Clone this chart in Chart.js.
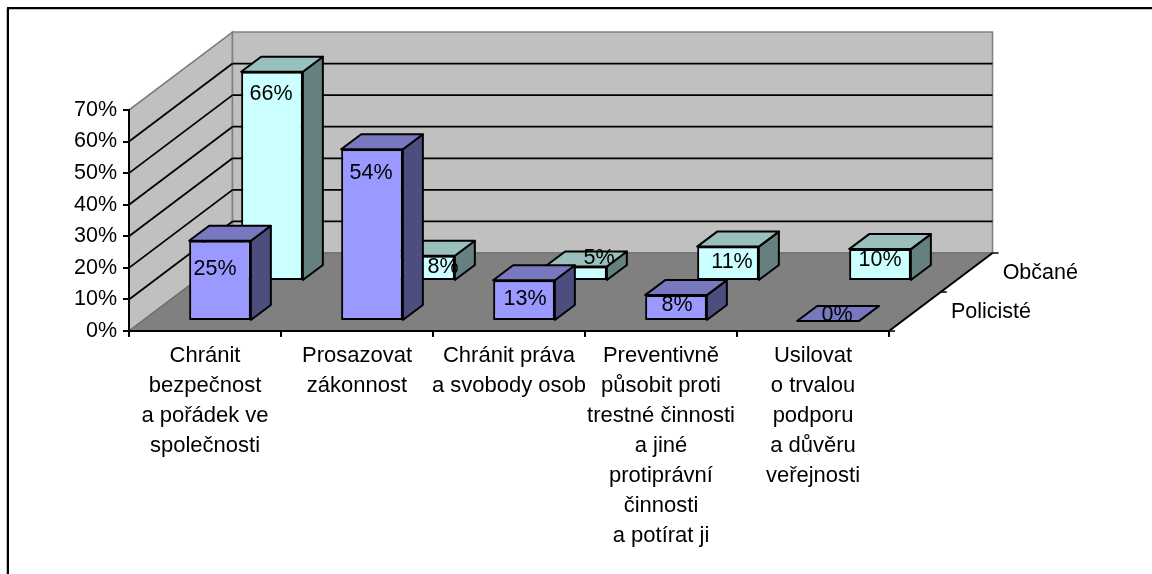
<!DOCTYPE html>
<html lang="cs">
<head>
<meta charset="utf-8">
<title>Graf</title>
<style>
  html, body { margin: 0; padding: 0; background: #fff; }
  canvas { display: block; }
</style>
<script src="https://cdn.jsdelivr.net/npm/chart.js@4/dist/chart.umd.min.js"></script>
</head>
<body>
<canvas id="graf" width="1152" height="574"></canvas>
<script>
// ===== Data =====
const categories = [
  ["Chránit", "bezpečnost", "a pořádek ve", "společnosti"],
  ["Prosazovat", "zákonnost"],
  ["Chránit práva", "a svobody osob"],
  ["Preventivně", "působit proti", "trestné činnosti", "a jiné", "protiprávní", "činnosti", "a potírat ji"],
  ["Usilovat", "o trvalou", "podporu", "a důvěru", "veřejnosti"],
];
const policiste = [25.4, 54.4, 12.9, 8.2, 0];
const obcane = [66.3, 8, 4.6, 10.9, 10.1];
const seriesNames = ["Policisté", "Občané"];
const yTicks = [0, 10, 20, 30, 40, 50, 60, 70];

// ===== 3D look =====
const FONT = '21.5px "Liberation Sans", Arial, sans-serif';
const FLOOR_DX = 103.5;   // floor depth, left wall goes this far right
const FLOOR_DY = -78;     // ...and this far up
const BAR_DX = 20;        // depth of one bar
const BAR_DY = -15;

// per series: shift into the floor, colours of the faces
const seriesLook = [
  { dx: 15, dy: -10, front: "#9999ff", top: "#7878c0", side: "#4d4d80" },
  { dx: 67, dy: -50, front: "#ccffff", top: "#99c0bc", side: "#668080" },
];

// Excel put the value labels a bit unevenly, nudges against the bar top
const labelNudge = [
  { x: [-5, -1, 1, 1, 9], y: [28, 24, 19, 10, -6] },
  { x: [-1, 19, 23, 4, 0], y: [22, 11, -8, 15, 11] },
];

function poly(ctx, pts, fill, stroke, width) {
  ctx.beginPath();
  pts.forEach((p, i) => (i ? ctx.lineTo(p[0], p[1]) : ctx.moveTo(p[0], p[1])));
  ctx.closePath();
  if (fill) {
    ctx.fillStyle = fill;
    ctx.fill();
  }
  if (stroke) {
    ctx.strokeStyle = stroke;
    ctx.lineWidth = width;
    ctx.stroke();
  }
}

function line(ctx, x1, y1, x2, y2, color, width) {
  ctx.beginPath();
  ctx.moveTo(x1, y1);
  ctx.lineTo(x2, y2);
  ctx.strokeStyle = color;
  ctx.lineWidth = width;
  ctx.stroke();
}

const box3d = {
  id: "box3d",

  // frame, walls and floor go under the axes
  beforeDraw(chart) {
    const { ctx, chartArea: a, scales } = chart;
    const y0 = scales.y.getPixelForValue(0);
    const yMax = scales.y.getPixelForValue(70);
    const dx = FLOOR_DX;
    const dy = FLOOR_DY;

    ctx.save();
    ctx.fillStyle = "#fff";
    ctx.fillRect(0, 0, chart.width, chart.height);

    // outer frame, only top and left are visible
    ctx.fillStyle = "#c0c0c0";
    ctx.fillRect(6, 9, 1, chart.height - 9);
    ctx.fillRect(9, 9, chart.width - 9, 1);
    ctx.fillStyle = "#000";
    ctx.fillRect(7, 7, chart.width - 7, 2);
    ctx.fillRect(7, 7, 2, chart.height - 7);

    // walls
    poly(ctx, [[a.left, y0], [a.left + dx, y0 + dy], [a.left + dx, yMax + dy], [a.left, yMax]], "#c0c0c0", "#808080", 1.6);
    poly(ctx, [[a.left + dx, y0 + dy], [a.right + dx, y0 + dy], [a.right + dx, yMax + dy], [a.left + dx, yMax + dy]], "#c0c0c0", "#808080", 1.6);

    // gridlines on both walls
    yTicks.forEach((v) => {
      if (v === 0 || v === 70) return;
      const y = scales.y.getPixelForValue(v);
      line(ctx, a.left, y, a.left + dx, y + dy, "#000", 1.8);
      line(ctx, a.left + dx, y + dy, a.right + dx, y + dy, "#000", 1.8);
    });

    // floor
    poly(ctx, [[a.left, y0], [a.right, y0], [a.right + dx, y0 + dy], [a.left + dx, y0 + dy]], "#808080", "#666", 1);

    // depth axis with its ticks and series names
    line(ctx, a.right, y0, a.right + dx, y0 + dy, "#000", 2);
    [0, 0.5, 1].forEach((f) => {
      const x = a.right + dx * f;
      const y = y0 + dy * f;
      line(ctx, x, y, x + 6, y, "#000", 1.5);
    });
    ctx.fillStyle = "#000";
    ctx.font = FONT;
    ctx.textAlign = "left";
    ctx.textBaseline = "middle";
    seriesNames.forEach((name, i) => {
      const f = i === 0 ? 0.25 : 0.75;
      ctx.fillText(name, a.right + dx * f + 36, y0 + dy * f + 1);
    });
    ctx.restore();
  },

  // top and side face of every bar, the front face is the library's bar
  beforeDatasetDraw(chart, args) {
    const { ctx } = chart;
    const look = seriesLook[args.index];
    ctx.save();
    ctx.translate(look.dx, look.dy);
    ctx.lineJoin = "round";
    args.meta.data.forEach((bar) => {
      const l = bar.x - bar.width / 2;
      const r = bar.x + bar.width / 2;
      const t = bar.y;
      const b = bar.base;
      poly(ctx, [[r, t], [r + BAR_DX, t + BAR_DY], [r + BAR_DX, b + BAR_DY], [r, b]], look.side, "#000", 2);
      poly(ctx, [[l, t], [l + BAR_DX, t + BAR_DY], [r + BAR_DX, t + BAR_DY], [r, t]], look.top, "#000", 2);
    });
  },

  afterDatasetDraw(chart) {
    chart.ctx.restore();
  },

  // value labels sit over all the bars
  afterDatasetsDraw(chart) {
    const { ctx } = chart;
    ctx.save();
    ctx.fillStyle = "#000";
    ctx.font = FONT;
    ctx.textAlign = "center";
    ctx.textBaseline = "middle";
    chart.data.datasets.forEach((ds, i) => {
      const look = seriesLook[i];
      chart.getDatasetMeta(i).data.forEach((bar, j) => {
        const x = bar.x + look.dx + labelNudge[i].x[j];
        const y = bar.y + look.dy + labelNudge[i].y[j];
        ctx.fillText(Math.round(ds.data[j]) + "%", x, y);
      });
    });
    ctx.restore();
  },
};

new Chart(document.getElementById("graf"), {
  type: "bar",
  plugins: [box3d],
  data: {
    labels: categories,
    datasets: [
      { label: seriesNames[0], data: policiste, backgroundColor: seriesLook[0].front },
      { label: seriesNames[1], data: obcane, backgroundColor: seriesLook[1].front },
    ],
  },
  options: {
    responsive: false,
    animation: false,
    layout: {
      autoPadding: false,
      padding: { left: 0, top: 110, right: 263, bottom: 0 },
    },
    datasets: {
      bar: {
        grouped: false,
        categoryPercentage: 1,
        barPercentage: 0.406,
        borderColor: "#000",
        borderWidth: 2,
        borderSkipped: false,
        clip: false,
      },
    },
    plugins: {
      legend: { display: false },
      tooltip: { enabled: false },
    },
    scales: {
      x: {
        afterFit: (s) => { s.height = 243; },
        grid: { drawOnChartArea: false, color: "#000", lineWidth: 2, tickLength: 6 },
        border: { color: "#000", width: 2 },
        ticks: {
          color: "#000",
          padding: 4,
          autoSkip: false,
          maxRotation: 0,
          font: { family: '"Liberation Sans", Arial, sans-serif', size: 22, lineHeight: 1.364 },
        },
      },
      y: {
        min: 0,
        max: 70,
        afterFit: (s) => { s.width = 129; },
        grid: { drawOnChartArea: false, color: "#000", lineWidth: 2, tickLength: 6 },
        border: { color: "#000", width: 2 },
        ticks: {
          color: "#000",
          padding: 6,
          stepSize: 10,
          callback: (v) => v + "%",
          font: { family: '"Liberation Sans", Arial, sans-serif', size: 21.5 },
        },
      },
    },
  },
});
</script>
</body>
</html>
